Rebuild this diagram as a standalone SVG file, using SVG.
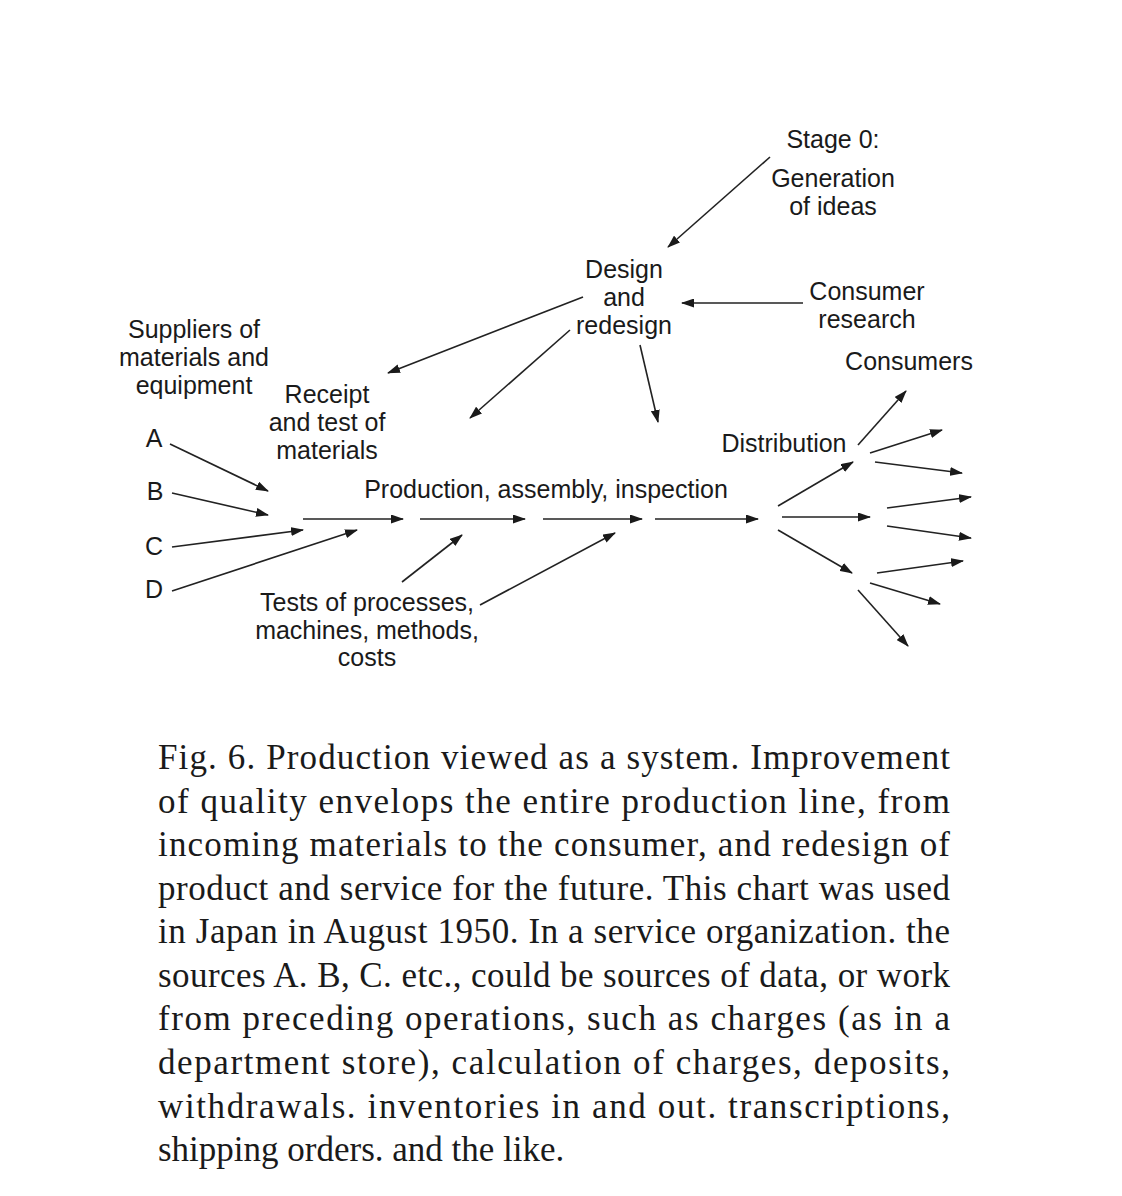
<svg xmlns="http://www.w3.org/2000/svg" width="1122" height="1196" viewBox="0 0 1122 1196">
<style>
.lbl{font-family:"Liberation Sans",Arial,sans-serif;font-size:25px;fill:#1a1a1a;text-anchor:middle}
.cap{font-family:"Liberation Serif","Times New Roman",serif;font-size:35px;fill:#1a1a1a}
.c line{stroke:#222;stroke-width:1.6;marker-end:url(#ah)}
</style>
<defs>
<marker id="ah" markerUnits="userSpaceOnUse" markerWidth="13" markerHeight="9" refX="12" refY="4.5" orient="auto">
<path d="M0,0 L13,4.5 L0,9 z" fill="#1a1a1a"/>
</marker>
</defs>
<rect width="1122" height="1196" fill="#fff"/>
<g id="stage0"><text class="lbl" x="833" y="148">Stage 0:</text><text class="lbl" x="833" y="187">Generation</text><text class="lbl" x="833" y="215">of ideas</text></g>
<g id="design"><text class="lbl" x="624" y="278">Design</text><text class="lbl" x="624" y="306">and</text><text class="lbl" x="624" y="334">redesign</text></g>
<g id="consumer-research"><text class="lbl" x="867" y="300">Consumer</text><text class="lbl" x="867" y="328">research</text></g>
<g id="consumers"><text class="lbl" x="909" y="370">Consumers</text></g>
<g id="suppliers"><text class="lbl" x="194" y="338">Suppliers of</text><text class="lbl" x="194" y="366">materials and</text><text class="lbl" x="194" y="394">equipment</text></g>
<g id="receipt"><text class="lbl" x="327" y="403">Receipt</text><text class="lbl" x="327" y="431">and test of</text><text class="lbl" x="327" y="459">materials</text></g>
<g id="distribution"><text class="lbl" x="784" y="452">Distribution</text></g>
<g id="production"><text class="lbl" x="546" y="498">Production, assembly, inspection</text></g>
<g id="src-a"><text class="lbl" x="154" y="447">A</text></g>
<g id="src-b"><text class="lbl" x="155" y="500">B</text></g>
<g id="src-c"><text class="lbl" x="154" y="555">C</text></g>
<g id="src-d"><text class="lbl" x="154" y="598">D</text></g>
<g id="tests"><text class="lbl" x="367" y="611">Tests of processes,</text><text class="lbl" x="367" y="639">machines, methods,</text><text class="lbl" x="367" y="666">costs</text></g>
<g id="connectors" class="c">
<line x1="770" y1="157" x2="668" y2="247"/>
<line x1="803" y1="303" x2="682" y2="303"/>
<line x1="583" y1="297" x2="388" y2="373"/>
<line x1="570" y1="330" x2="470" y2="418"/>
<line x1="640" y1="345" x2="658" y2="422"/>
<line x1="170" y1="444" x2="268" y2="491"/>
<line x1="172" y1="493" x2="268" y2="515"/>
<line x1="172" y1="547" x2="303" y2="530"/>
<line x1="172" y1="591" x2="357" y2="530"/>
<line x1="303" y1="519" x2="403" y2="519"/>
<line x1="420" y1="519" x2="525" y2="519"/>
<line x1="543" y1="519" x2="642" y2="519"/>
<line x1="655" y1="519" x2="758" y2="519"/>
<line x1="402" y1="582" x2="462" y2="535"/>
<line x1="480" y1="605" x2="615" y2="533"/>
<line x1="778" y1="506" x2="853" y2="462"/>
<line x1="782" y1="517" x2="870" y2="517"/>
<line x1="778" y1="530" x2="852" y2="573"/>
<line x1="858" y1="445" x2="906" y2="391"/>
<line x1="870" y1="453" x2="942" y2="430"/>
<line x1="875" y1="462" x2="962" y2="473"/>
<line x1="887" y1="508" x2="971" y2="497"/>
<line x1="887" y1="526" x2="971" y2="538"/>
<line x1="877" y1="573" x2="963" y2="561"/>
<line x1="870" y1="583" x2="940" y2="604"/>
<line x1="858" y1="590" x2="908" y2="646"/>
</g>
<g id="caption" class="cap">
<text x="158" y="769" textLength="792" lengthAdjust="spacing">Fig. 6. Production viewed as a system.  Improvement</text>
<text x="158" y="813" textLength="792" lengthAdjust="spacing">of quality envelops the entire production line, from</text>
<text x="158" y="856" textLength="792" lengthAdjust="spacing">incoming materials to the consumer, and redesign of</text>
<text x="158" y="900" textLength="792" lengthAdjust="spacing">product and service for the future.  This chart was used</text>
<text x="158" y="943" textLength="792" lengthAdjust="spacing">in Japan in August 1950.  In a service organization. the</text>
<text x="158" y="987" textLength="792" lengthAdjust="spacing">sources A. B, C. etc., could be sources of data, or work</text>
<text x="158" y="1030" textLength="792" lengthAdjust="spacing">from preceding operations, such as charges (as in a</text>
<text x="158" y="1074" textLength="792" lengthAdjust="spacing">department store), calculation of charges, deposits,</text>
<text x="158" y="1118" textLength="792" lengthAdjust="spacing">withdrawals. inventories in and out. transcriptions,</text>
<text x="158" y="1161">shipping orders. and the like.</text>
</g>
</svg>
